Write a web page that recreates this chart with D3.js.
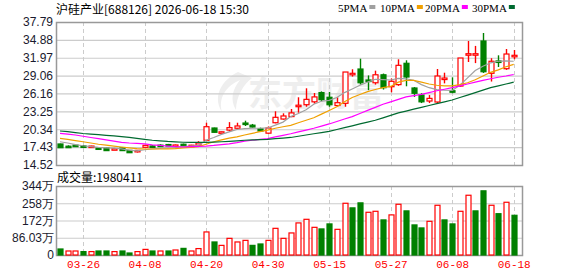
<!DOCTYPE html>
<html>
<head>
<meta charset="utf-8">
<script src="https://cdn.jsdelivr.net/npm/d3@7/dist/d3.min.js"></script>
<style>
  body { margin: 0; background: #fff; }
  svg { display: block; }
</style>
</head>
<body>
<svg id="chart" width="578" height="276"></svg>
<script>
// Data
var dates = ["03-23","03-24","03-25","03-26","03-27","03-30","03-31","04-01","04-02","04-03",
             "04-07","04-08","04-09","04-10","04-13","04-14","04-15","04-16","04-17","04-20",
             "04-21","04-22","04-23","04-24","04-27","04-28","04-29","04-30","05-06","05-07",
             "05-08","05-11","05-12","05-13","05-14","05-15","05-18","05-19","05-20","05-21",
             "05-22","05-25","05-26","05-27","05-28","05-29","06-01","06-02","06-03","06-04",
             "06-05","06-08","06-09","06-10","06-11","06-12","06-15","06-16","06-17","06-18"];

// open, high, low, close
var ohlc = [
  [17.94,18.00,17.30,17.33],[17.58,17.72,17.40,17.55],[17.75,17.80,17.65,17.70],[17.62,17.75,17.45,17.58],
  [17.50,17.65,17.45,17.60],[17.30,17.35,17.00,17.25],[17.27,17.30,16.80,16.86],[17.12,17.30,17.05,17.17],
  [17.29,17.35,16.80,16.86],[16.90,16.95,16.50,16.52],[16.85,16.95,16.55,16.90],[17.40,17.75,17.35,17.72],
  [17.62,17.75,17.45,17.60],[17.75,17.90,17.60,17.72],[17.85,17.95,17.70,17.82],[17.72,17.85,17.60,17.78],
  [17.90,18.00,17.75,17.88],[17.70,17.80,17.65,17.74],[17.75,18.40,17.70,18.10],[18.54,21.40,18.50,20.75],
  [20.54,20.60,19.80,19.84],[19.88,19.95,19.80,19.92],[20.20,21.50,20.00,20.60],[20.50,21.40,20.40,20.87],
  [21.35,21.73,20.87,21.25],[21.00,21.20,20.60,20.70],[20.40,20.60,19.95,20.05],[19.70,20.80,19.60,20.54],
  [21.40,23.26,21.30,22.28],[22.00,22.93,21.90,22.50],[22.40,23.63,22.30,23.00],[24.15,25.54,23.03,24.25],
  [24.33,27.00,24.00,25.20],[24.80,26.24,24.50,25.60],[26.30,26.50,24.90,25.15],[25.54,26.40,24.00,24.33],
  [24.20,25.54,24.00,24.66],[24.56,29.65,24.00,29.65],[29.35,30.10,28.90,29.44],[30.14,31.82,27.60,27.90],
  [28.35,29.10,26.70,28.20],[27.90,29.87,27.60,29.20],[29.20,29.40,26.80,27.10],[27.26,28.60,26.35,28.14],
  [27.60,31.72,27.40,30.74],[31.07,31.56,27.33,28.84],[27.05,27.20,25.60,26.19],[25.90,26.20,24.60,24.80],
  [24.93,25.90,24.60,25.36],[24.77,30.14,24.60,29.00],[28.60,29.54,27.80,28.67],[26.60,28.79,26.19,26.50],
  [27.37,31.93,27.26,31.93],[32.55,34.70,31.28,32.63],[32.55,33.90,31.10,32.63],[34.70,36.00,29.50,29.70],
  [29.44,31.90,28.10,31.40],[31.45,32.37,30.47,31.35],[30.19,33.40,30.00,32.58],[32.30,33.23,31.72,32.37]
];

// volume in 万, with up/down colour flag (r = up, g = down)
var volume = [30,20,20,17,17,20,20,17,20,10,17,28,20,20,20,25,33,20,32,115,
              65,48,83,65,73,48,55,73,133,83,110,160,178,138,130,155,128,258,235,260,
              213,218,175,200,253,220,150,135,168,248,175,155,218,298,220,320,248,206,263,198];
var volDir = "grrgrggrggrrgrgrgrrrgrrrrggrrrrrrrggrrggrrgrrgggrrggrrggrgrg";

var ma5 = [18.30,18.10,17.85,17.65,17.50,17.38,17.30,17.25,17.15,16.95,16.82,17.00,17.15,17.23,17.30,17.35,17.50,17.60,17.70,18.55,
           19.00,19.50,19.90,20.30,20.45,20.50,20.50,20.55,21.00,21.50,22.40,22.90,23.50,24.40,24.90,25.05,25.50,26.30,26.90,27.50,
           28.00,28.47,28.40,28.35,28.60,28.55,28.30,27.60,27.10,26.80,26.68,26.65,27.50,28.70,29.90,30.60,31.15,31.40,31.45,31.40];
var ma10 = [18.86,18.70,18.50,18.30,18.10,17.90,17.75,17.60,17.45,17.30,17.17,17.12,17.12,17.12,17.15,17.17,17.30,17.40,17.50,17.90,
            18.30,18.60,18.90,19.10,19.40,19.67,19.95,20.20,20.50,20.75,20.98,21.40,21.80,22.20,22.80,23.40,24.00,24.80,25.50,26.00,
            26.45,26.80,27.10,27.30,28.00,28.30,28.30,28.00,27.70,27.50,27.40,27.40,27.60,27.90,28.40,29.00,29.60,30.00,30.50,30.90];
var ma20 = [19.67,19.55,19.40,19.20,19.00,18.80,18.60,18.40,18.20,18.10,18.05,17.95,17.80,17.70,17.60,17.50,17.45,17.50,17.55,17.60,
            17.70,17.85,17.95,18.15,18.40,18.55,18.70,18.80,19.10,19.35,19.60,19.90,20.20,20.50,20.85,21.20,21.60,22.00,22.40,22.90,
            23.40,23.90,24.40,24.80,25.20,25.60,25.80,26.00,26.30,26.60,26.85,27.10,27.40,27.70,28.00,28.30,28.55,28.80,29.00,29.25];
var ma30 = [20.05,19.95,19.80,19.65,19.55,19.45,19.35,19.25,19.15,19.00,18.85,18.70,18.55,18.45,18.35,18.28,18.22,18.20,18.20,18.20,
            18.25,18.30,18.37,18.45,18.55,18.60,18.65,18.70,18.80,18.90,19.00,19.20,19.40,19.60,19.80,20.00,20.30,20.60,20.90,21.20,
            21.50,21.80,22.20,22.60,23.00,23.30,23.60,23.90,24.20,24.50,24.80,25.10,25.50,25.90,26.30,26.70,27.10,27.40,27.70,28.00];

var priceTicks = [14.52,17.43,20.34,23.25,26.16,29.06,31.97,34.88,37.79];
var volTicks = [0,86.03,172,258,344.12];
var volTickLabels = ["0","86.03万","172万","258万","344万"];
var dateTicks = ["03-26","04-08","04-20","04-30","05-15","05-27","06-08","06-18"];

var maNames = ["5PMA","10PMA","20PMA","30PMA"];
var maColors = ["#a0a0a0","#f0a000","#ff00ff","#006a30"];
var upColor = "#ff0000", downColor = "#008000";

// Layout
var left = 56, right = 522;
var pTop = 22, pBottom = 165;
var vTop = 186, vBottom = 255;

var svg = d3.select("#chart");

var x = d3.scalePoint().domain(dates).range([60, 513.7]);
var y = d3.scaleLinear().domain([14.52, 37.79]).range([pBottom, pTop]);
var yv = d3.scaleLinear().domain([0, 344.12]).range([vBottom, vTop]);

// watermark (logo + name)
svg.append("path")
    .attr("d", "M238,72 C222,80 212,96 222,112 C218,98 226,86 240,80 C232,90 230,100 236,110 C236,96 244,84 252,78 Z")
    .attr("fill", "#eeeeee");
svg.append("text")
    .attr("x", 248).attr("y", 106)
    .attr("font-family", "Noto Sans CJK SC")
    .attr("font-weight", "bold")
    .attr("font-size", 34)
    .attr("fill", "#eeeeee")
    .text("东方财富");

// horizontal grid + y labels (price)
svg.append("g")
    .attr("transform", "translate(" + left + ",0)")
    .call(d3.axisLeft(y).tickValues(priceTicks).tickSize(-(right - left)).tickFormat(d3.format(".2f")))
    .call(function(g){
        g.select(".domain").remove();
        g.selectAll(".tick line").attr("stroke", "#cccccc").attr("stroke-width", 1.2);
        g.selectAll(".tick text").attr("x", -3).attr("fill", "#1a1a2e")
            .attr("font-family", "Liberation Sans, Arial").attr("font-size", 12);
    });

// volume grid + labels
svg.append("g")
    .attr("transform", "translate(" + left + ",0)")
    .call(d3.axisLeft(yv).tickValues(volTicks).tickSize(-(right - left))
        .tickFormat(function(d, i){ return volTickLabels[i]; }))
    .call(function(g){
        g.select(".domain").remove();
        g.selectAll(".tick line").attr("stroke", "#cccccc").attr("stroke-width", 1.2);
        g.selectAll(".tick text").attr("x", -2).attr("fill", "#1a1a2e")
            .attr("font-family", "Liberation Sans, Arial").attr("font-size", 12);
    });

// vertical dashed grid
[[pTop, pBottom], [vTop, vBottom]].forEach(function(r){
    svg.append("g").selectAll("line")
        .data(dateTicks).enter().append("line")
        .attr("x1", function(d){ return Math.round(x(d)) + 0.5; })
        .attr("x2", function(d){ return Math.round(x(d)) + 0.5; })
        .attr("y1", r[0]).attr("y2", r[1])
        .attr("stroke", "#cccccc").attr("stroke-dasharray", "4,3");
});

// x labels
svg.append("g")
    .attr("transform", "translate(0," + vBottom + ")")
    .call(d3.axisBottom(x).tickValues(dateTicks).tickSize(0).tickPadding(5))
    .call(function(g){
        g.select(".domain").remove();
        g.selectAll(".tick text").attr("fill", "#ff0000")
            .attr("font-family", "Liberation Mono, monospace").attr("font-size", 11);
    });

// frames
[[pTop, pBottom], [vTop, vBottom]].forEach(function(r){
    svg.append("rect")
        .attr("x", left + 0.5).attr("y", r[0] + 0.5)
        .attr("width", right - left).attr("height", r[1] - r[0])
        .attr("fill", "none").attr("stroke", "#999999").attr("stroke-width", 1.5);
});

// candles
var bw = 5;
var candles = svg.append("g").selectAll("g").data(ohlc).enter().append("g");
candles.append("line")
    .attr("x1", function(d, i){ return Math.round(x(dates[i])) + 0.5; })
    .attr("x2", function(d, i){ return Math.round(x(dates[i])) + 0.5; })
    .attr("y1", function(d){ return y(d[1]); })
    .attr("y2", function(d){ return y(d[2]); })
    .attr("stroke", function(d){ return d[3] >= d[0] ? upColor : downColor; })
    .attr("stroke-width", 1.4);
candles.append("rect")
    .attr("x", function(d, i){ return Math.round(x(dates[i])) + 0.5 - bw / 2; })
    .attr("y", function(d){ return y(Math.max(d[0], d[3])); })
    .attr("width", bw)
    .attr("height", function(d){ return Math.max(1.5, Math.abs(y(d[0]) - y(d[3]))); })
    .attr("fill", function(d){ return d[3] >= d[0] ? "#ffffff" : downColor; })
    .attr("stroke", function(d){ return d[3] >= d[0] ? upColor : downColor; })
    .attr("stroke-width", 1.2);

// MA lines
var line = d3.line()
    .x(function(d, i){ return x(dates[i]); })
    .y(function(d){ return y(d); });
[ma5, ma10, ma20, ma30].forEach(function(s, k){
    svg.append("path")
        .attr("d", line(s))
        .attr("fill", "none")
        .attr("stroke", maColors[k])
        .attr("stroke-width", 1.2);
});

// volume bars
svg.append("g").selectAll("rect").data(volume).enter().append("rect")
    .attr("x", function(d, i){ return Math.round(x(dates[i])) + 0.5 - bw / 2; })
    .attr("y", function(d){ return yv(d); })
    .attr("width", bw)
    .attr("height", function(d){ return vBottom - yv(d); })
    .attr("fill", function(d, i){ return volDir[i] == "r" ? "#ffffff" : downColor; })
    .attr("stroke", function(d, i){ return volDir[i] == "r" ? upColor : downColor; })
    .attr("stroke-width", 1.2);

// title
svg.append("text")
    .attr("x", 56).attr("y", 14)
    .attr("font-family", "Noto Sans CJK SC").attr("font-size", 12)
    .attr("fill", "#000")
    .text("沪硅产业[688126] 2026-06-18 15:30");

// legend
var lx = [338, 380, 425, 472];
maNames.forEach(function(n, k){
    var t = svg.append("text")
        .attr("x", lx[k]).attr("y", 12)
        .attr("font-family", "Liberation Serif").attr("font-size", 11)
        .attr("fill", "#000").text(n);
    var w = t.node().getComputedTextLength();
    svg.append("rect")
        .attr("x", lx[k] + w + 2).attr("y", 5)
        .attr("width", 6).attr("height", 4)
        .attr("fill", maColors[k]);
});

// volume label
svg.append("text")
    .attr("x", 57).attr("y", 182)
    .attr("font-family", "Noto Sans CJK SC").attr("font-size", 12)
    .attr("fill", "#000")
    .text("成交量:1980411");
</script>
</body>
</html>
